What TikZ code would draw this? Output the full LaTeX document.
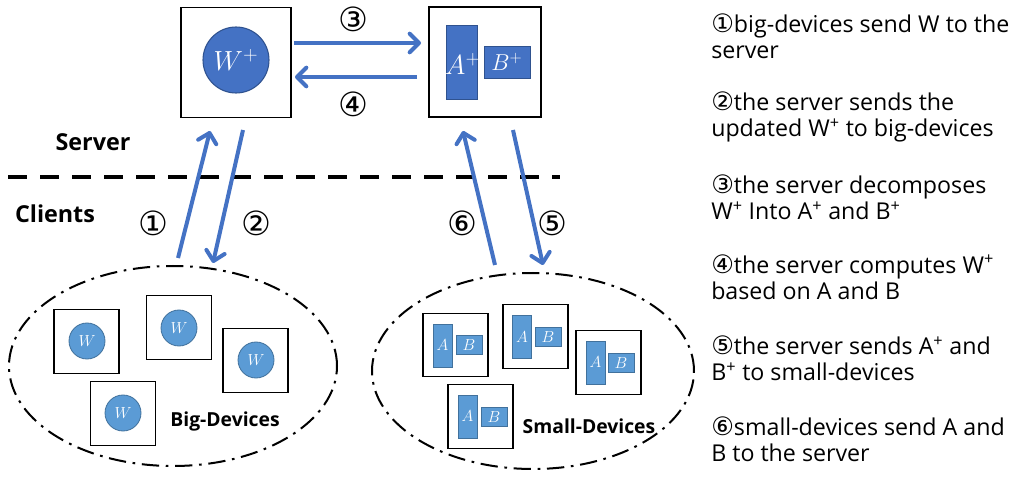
\documentclass[tikz,border=0pt]{standalone}
\usepackage{fontspec}
\setmainfont{Open Sans}
\newfontfamily\circfont{DejaVu Sans}
\usetikzlibrary{arrows.meta,shapes.geometric}
\definecolor{darkblue}{HTML}{4472C4}
\definecolor{darkblueedge}{HTML}{2F528F}
\definecolor{lightblue}{HTML}{5B9BD5}
\definecolor{lightblueedge}{HTML}{41719C}
\tikzset{
  bigbox/.style={draw=black, line width=0.9pt, minimum width=82.5pt, minimum height=82pt, inner sep=0pt},
  devbox/.style={draw=black, line width=0.8pt, minimum width=48.75pt, minimum height=47.5pt, inner sep=0pt},
  wcircle/.style={circle, fill=lightblue, draw=lightblueedge, line width=0.6pt, minimum size=27pt, inner sep=0pt, text=white, font=\fontsize{13}{15}\selectfont},
  arect/.style={fill=lightblue, draw=lightblueedge, line width=0.6pt, minimum width=14.25pt, minimum height=32.25pt, inner sep=0pt, text=white, font=\fontsize{13}{15}\selectfont},
  brect/.style={fill=lightblue, draw=lightblueedge, line width=0.6pt, minimum width=19.5pt, minimum height=14.25pt, inner sep=0pt, text=white, font=\fontsize{13}{15}\selectfont},
  flow/.style={draw=darkblue, line width=3pt, -{Straight Barb[length=7pt,width=14pt,line cap=round,line join=round]}},
  group/.style={ellipse, draw=black, line width=1.5pt, dash pattern=on 13pt off 5pt on 2pt off 5pt, inner sep=0pt},
  stepnum/.style={font=\circfont\fontsize{25}{28}\selectfont, inner sep=0pt},
  heading/.style={font=\fontsize{17.5}{20}\selectfont\bfseries, inner sep=0pt},
  grouplabel/.style={font=\fontsize{14.5}{17}\selectfont\bfseries, inner sep=0pt},
  legend/.style={anchor=west, align=left, inner sep=0pt, font=\fontsize{17.4}{19.5}\selectfont}
}
\newcommand{\cn}[1]{{\circfont\fontsize{19}{19.5}\selectfont #1}}
\begin{document}
\begin{tikzpicture}[x=0.75pt,y=-0.75pt]
\useasboundingbox (0,0) rectangle (1021,477);

% server boxes
\node[bigbox] (wbox) at (236,62.5) {};
\node[circle, fill=darkblue, draw=darkblueedge, line width=0.8pt, minimum size=49.5pt, inner sep=0pt, text=white, font=\fontsize{21}{24}\selectfont] (wplus) at (236,60) {$W^+$};
\node[bigbox, minimum width=84pt, minimum height=82.5pt] (abbox) at (485,62) {};
\node[fill=darkblue, draw=darkblueedge, line width=0.6pt, minimum width=23.25pt, minimum height=55.5pt, inner sep=0pt] (aplus) at (461.5,62) {};
\node[fill=darkblue, draw=darkblueedge, line width=0.6pt, minimum width=34.5pt, minimum height=24pt, inner sep=0pt, text=white, font=\fontsize{18}{20}\selectfont] (bplus) at (507,62) {$B^+$};
\node[text=white, font=\fontsize{20}{22}\selectfont, inner sep=0pt] (aplustext) at (463,64) {$A^+$};

% server arrows
\coordinate (a3s) at (294,43); \coordinate (a3e) at (421,43);
\coordinate (a4s) at (417,77); \coordinate (a4e) at (295,77);
\draw[flow] (a3s) -- (a3e);
\draw[flow] (a4s) -- (a4e);
\node[stepnum] (n3) at (353,19) {③};
\node[stepnum] (n4) at (353,104) {④};

% divider
\coordinate (dl) at (8,177); \coordinate (dr) at (560,177);
\draw[line width=3pt, dash pattern=on 14pt off 10pt] (dl) -- (dr);
\node[heading] (server) at (93,142) {Server};
\node[heading] (clients) at (55,214) {Clients};

% big devices
\node[group, minimum width=246pt, minimum height=150pt] (bigell) at (173,366) {};
\node[devbox] (b1) at (86.5,341.5) {};
\node[wcircle] (w1) at (87,341) {$W$};
\node[devbox] (b2) at (179,327.5) {};
\node[wcircle] (w2) at (179,328) {$W$};
\node[devbox] (b3) at (255.5,360.5) {};
\node[wcircle] (w3) at (256,360) {$W$};
\node[devbox] (b4) at (123,413.5) {};
\node[wcircle] (w4) at (123,413) {$W$};
\node[grouplabel] (biglabel) at (225,421) {Big-Devices};

% small devices
\node[group, minimum width=241.5pt, minimum height=147pt] (smallell) at (533,371) {};
\node[devbox] (s1) at (455.5,345) {};
\node[arect] (s1a) at (442.5,345.5) {$A$};
\node[brect] (s1b) at (469,345) {$B$};
\node[devbox] (s2) at (535.5,336.5) {};
\node[arect] (s2a) at (522,337) {$A$};
\node[brect] (s2b) at (548,337) {$B$};
\node[devbox] (s3) at (608.5,362.5) {};
\node[arect] (s3a) at (595.5,362.5) {$A$};
\node[brect] (s3b) at (621,363) {$B$};
\node[devbox] (s4) at (480.5,416.5) {};
\node[arect] (s4a) at (467.5,416.5) {$A$};
\node[brect] (s4b) at (494,417) {$B$};
\node[grouplabel] (smalllabel) at (589,426) {Small-Devices};

% client arrows
\coordinate (a1s) at (178,258); \coordinate (a1e) at (210,131);
\coordinate (a2s) at (243,130); \coordinate (a2e) at (213,263);
\coordinate (a6s) at (495,265); \coordinate (a6e) at (463,131);
\coordinate (a5s) at (513,130); \coordinate (a5e) at (543,265);
\draw[flow] (a1s) -- (a1e);
\draw[flow] (a2s) -- (a2e);
\draw[flow] (a6s) -- (a6e);
\draw[flow] (a5s) -- (a5e);
\node[stepnum] (n1) at (153.5,223) {①};
\node[stepnum] (n2) at (256,223) {②};
\node[stepnum] (n6) at (462,223) {⑥};
\node[stepnum] (n5) at (552,223) {⑤};

% legend
\node[legend] (l1) at (711,36) {\cn{①}big-devices send W to the\\server};
\node[legend] (l2) at (711,117) {\cn{②}the server sends the\\updated W\textsuperscript{+} to big-devices};
\node[legend] (l3) at (711,197.5) {\cn{③}the server decomposes\\W\textsuperscript{+} Into A\textsuperscript{+} and B\textsuperscript{+}};
\node[legend] (l4) at (711,277) {\cn{④}the server computes W\textsuperscript{+}\\based on A and B};
\node[legend] (l5) at (711,358.5) {\cn{⑤}the server sends A\textsuperscript{+} and\\B\textsuperscript{+} to small-devices};
\node[legend] (l6) at (711,439) {\cn{⑥}small-devices send A and\\B to the server};
\end{tikzpicture}
\end{document}
